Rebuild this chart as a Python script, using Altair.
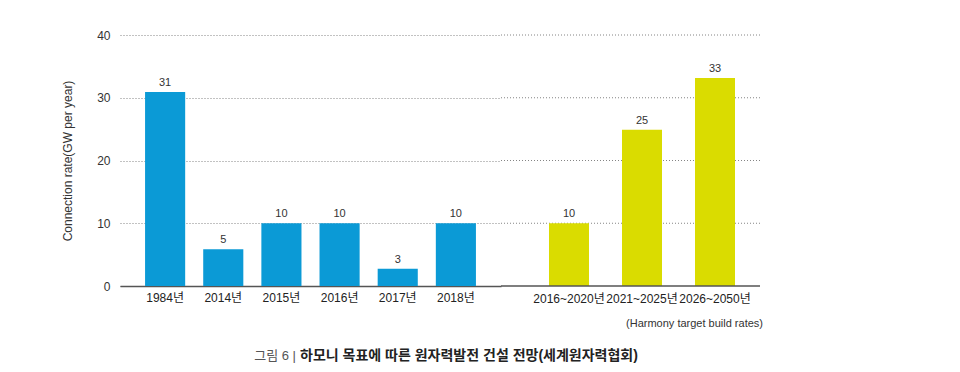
import altair as alt
import pandas as pd

# ---- data ----
hist_years = ["1984년", "2014년", "2015년", "2016년", "2017년", "2018년"]
hist_values = [30.9, 5.85, 10.0, 10.0, 2.75, 10.0]
hist_labels = ["31", "5", "10", "10", "3", "10"]

target_periods = ["2016~2020년", "2021~2025년", "2026~2050년"]
target_values = [10.0, 24.9, 33.15]
target_labels = ["10", "25", "33"]

y_ticks = [0, 10, 20, 30, 40]

y_title = "Connection rate(GW per year)"
note_text = "(Harmony target build rates)"
caption_prefix = "그림 6 | "
caption_main = "하모니 목표에 따른 원자력발전 건설 전망(세계원자력협회)"

FONT = "Liberation Sans, Noto Sans CJK KR, sans-serif"
BLUE = "#0b9ad6"
YELLOW = "#dadc00"

left_df = pd.DataFrame({"cat": hist_years, "val": hist_values, "lab": hist_labels})
right_df = pd.DataFrame({"cat": target_periods, "val": target_values, "lab": target_labels})
cap_df = pd.DataFrame({"a": [caption_prefix], "b": [caption_main], "n": [note_text]})
grid_df = pd.DataFrame({"v": [t for t in y_ticks if t > 0]})
base_df = pd.DataFrame({"v": [y_ticks[0]]})

y_scale = alt.Scale(domain=[0, 40], nice=False)

# ---- left panel ----
xl = alt.X("cat:N", sort=hist_years,
           scale=alt.Scale(paddingInner=18 / 58, paddingOuter=25 / 58),
           axis=alt.Axis(title=None, labelAngle=0, ticks=False, domainColor="#555",
                         domainWidth=1.5, labelFont=FONT, labelFontSize=12,
                         labelColor="#222", labelPadding=6, grid=False))
yl = alt.Y("val:Q", scale=y_scale,
           axis=alt.Axis(values=y_ticks, title=y_title, grid=True, gridDash=[1, 2],
                         gridColor="#666", gridWidth=0.8, domain=False, ticks=False,
                         labelFont=FONT, labelFontSize=12, labelColor="#333",
                         labelPadding=10, titleFont=FONT, titleFontSize=12,
                         titleFontWeight="normal", titleColor="#333", titlePadding=22))

left_base = alt.Chart(left_df)
left_bars = left_base.mark_bar(color=BLUE).encode(x=xl, y=yl)
left_text = left_base.mark_text(baseline="bottom", dy=-4, fontSize=11, font=FONT,
                                color="#333").encode(
    x=alt.X("cat:N", sort=hist_years), y="val:Q", text="lab:N")
cap_a = alt.Chart(cap_df).mark_text(align="right", baseline="middle", fontSize=13,
                                    font=FONT, color="#555").encode(
    x=alt.value(176), y=alt.value(321), text="a:N")
cap_b = alt.Chart(cap_df).mark_text(align="left", baseline="middle", fontSize=14,
                                    font=FONT, fontWeight="bold", color="#222").encode(
    x=alt.value(180), y=alt.value(321), text="b:N")

left = alt.layer(left_bars, left_text, cap_a, cap_b).properties(width=381, height=251)

# ---- right panel ----
xr = alt.X("cat:N", sort=target_periods,
           scale=alt.Scale(range=[48, 48 + 73 * (3 - 33 / 73)], paddingInner=33 / 73,
                           paddingOuter=0),
           axis=alt.Axis(title=None, labelAngle=0, ticks=False, domain=False,
                         labelFont=FONT, labelFontSize=12, labelColor="#222",
                         labelPadding=7, grid=False))
yr = alt.Y("val:Q", scale=y_scale, axis=None)

right_grid = alt.Chart(grid_df).mark_rule(color="#666", strokeDash=[1, 2],
                                           strokeWidth=0.8).encode(
    y=alt.Y("v:Q", scale=y_scale, axis=None), x=alt.value(0), x2=alt.value(259))
right_base_line = alt.Chart(base_df).mark_rule(color="#555", strokeWidth=1.5).encode(
    y=alt.Y("v:Q", scale=y_scale, axis=None), x=alt.value(0), x2=alt.value(259))

right_base = alt.Chart(right_df)
right_bars = right_base.mark_bar(color=YELLOW).encode(x=xr, y=yr)
right_text = right_base.mark_text(baseline="bottom", dy=-4, fontSize=11, font=FONT,
                                  color="#333").encode(
    x=alt.X("cat:N", sort=target_periods), y="val:Q", text="lab:N")
note = alt.Chart(cap_df).mark_text(align="right", baseline="middle", fontSize=11,
                                   font=FONT, color="#333").encode(
    x=alt.value(262), y=alt.value(289), text="n:N")

right = alt.layer(right_grid, right_bars, right_base_line, right_text, note).properties(
    width=259, height=251)

chart = alt.hconcat(left, right, spacing=0, bounds="flush").resolve_scale(
    x="independent"
).properties(
    padding={"left": 53, "top": 21, "right": 5, "bottom": 5}
).configure(background="white").configure_view(stroke=None)

chart.save("out.html", embed_options={"renderer": "svg", "actions": False})
